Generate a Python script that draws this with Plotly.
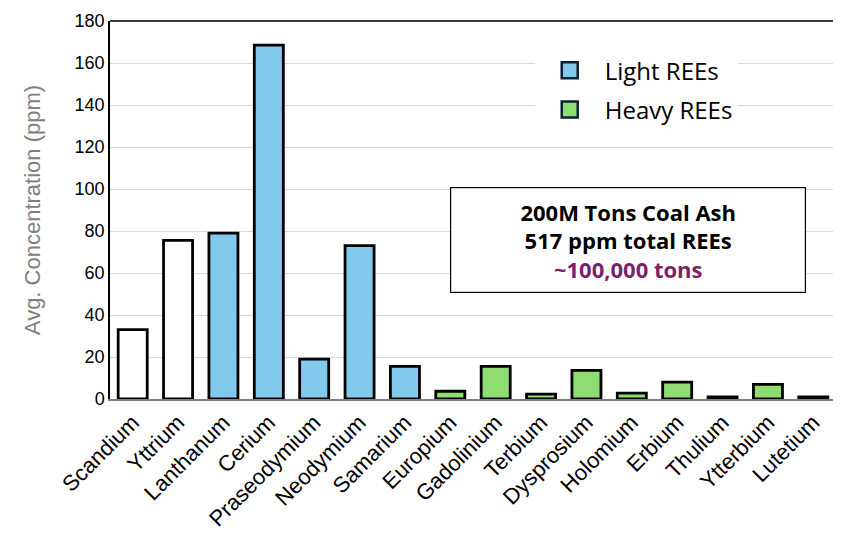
import plotly.graph_objects as go

elements = ["Scandium", "Yttrium", "Lanthanum", "Cerium", "Praseodymium", "Neodymium",
            "Samarium", "Europium", "Gadolinium", "Terbium", "Dysprosium", "Holomium",
            "Erbium", "Thulium", "Ytterbium", "Lutetium"]
other_names = ["Scandium", "Yttrium"]
other_vals = [33, 75.5]
light_names = ["Lanthanum", "Cerium", "Praseodymium", "Neodymium", "Samarium"]
light_vals = [79, 168.5, 19, 73, 15.5]
heavy_names = ["Europium", "Gadolinium", "Terbium", "Dysprosium", "Holomium",
               "Erbium", "Thulium", "Ytterbium", "Lutetium"]
heavy_vals = [3.7, 15.5, 2.3, 13.6, 2.8, 8, 1, 7, 1]
y_ticks = [0, 20, 40, 60, 80, 100, 120, 140, 160, 180]

BLUE = "#82CAEB"
GREEN = "#8FDC72"
EDGE = "#000000"

fig = go.Figure()
fig.add_bar(x=other_names, y=other_vals, marker=dict(color="white", line=dict(color=EDGE, width=2.8)),
            width=0.64, showlegend=False)
fig.add_bar(x=light_names, y=light_vals, marker=dict(color=BLUE, line=dict(color=EDGE, width=2.8)),
            width=0.64, showlegend=False)
fig.add_bar(x=heavy_names, y=heavy_vals, marker=dict(color=GREEN, line=dict(color=EDGE, width=2.8)),
            width=0.64, showlegend=False)
# legend entries
fig.add_scatter(x=[None], y=[None], mode="markers", name="Light REEs", legendgroup="a",
                marker=dict(symbol="square", size=22, color=BLUE, line=dict(color="#0B2233", width=2.5)))
fig.add_scatter(x=[None], y=[None], mode="markers", name="Heavy REEs", legendgroup="b",
                marker=dict(symbol="square", size=22, color=GREEN, line=dict(color="#0B2233", width=2.5)))

fig.update_layout(
    width=833, height=528,
    margin=dict(l=102, r=3, t=7, b=137),
    paper_bgcolor="white", plot_bgcolor="white",
    barmode="overlay",
    font=dict(family="Liberation Sans, Arial", size=18, color="black"),
    legend=dict(x=0.585, y=0.928, xanchor="left", yanchor="top", bgcolor="white",
                font=dict(family="Open Sans", size=24, color="black"), itemsizing="trace",
                itemwidth=60, tracegroupgap=5),
    xaxis=dict(categoryorder="array", categoryarray=elements, tickangle=-45,
               showline=True, linecolor="#7f7f7f", linewidth=1.5, ticks="",
               tickfont=dict(size=22), range=[-0.5, 15.5]),
    yaxis=dict(range=[0, 180], tickvals=y_ticks, showgrid=True, gridcolor="#D9D9D9", gridwidth=1.2,
               showline=True, linecolor="black", linewidth=1.5, mirror=True, ticks="",
               zeroline=False, tickfont=dict(size=18), ticklabeloverflow="allow",
               title=dict(text="Avg. Concentration (ppm)", font=dict(size=22, color="#808080"), standoff=28)),
    shapes=[dict(type="line", xref="paper", yref="paper", x0=0, x1=1, y0=1, y1=1,
                 line=dict(color="black", width=1.5))],
)

fig.add_annotation(xref="paper", yref="paper", x=0.714, y=0.42, xanchor="center", yanchor="middle",
                   showarrow=False,
                   text="<b>200M Tons Coal Ash</b><br><b>517 ppm total REEs</b><br>"
                        "<b><span style='color:#7B1F6E'>~100,000 tons</span></b>",
                   font=dict(family="Open Sans", size=22, color="black"),
                   bgcolor="white", bordercolor="black", borderwidth=1.2, borderpad=9,
                   width=336, height=86, align="center")

fig.write_html("out.html")
